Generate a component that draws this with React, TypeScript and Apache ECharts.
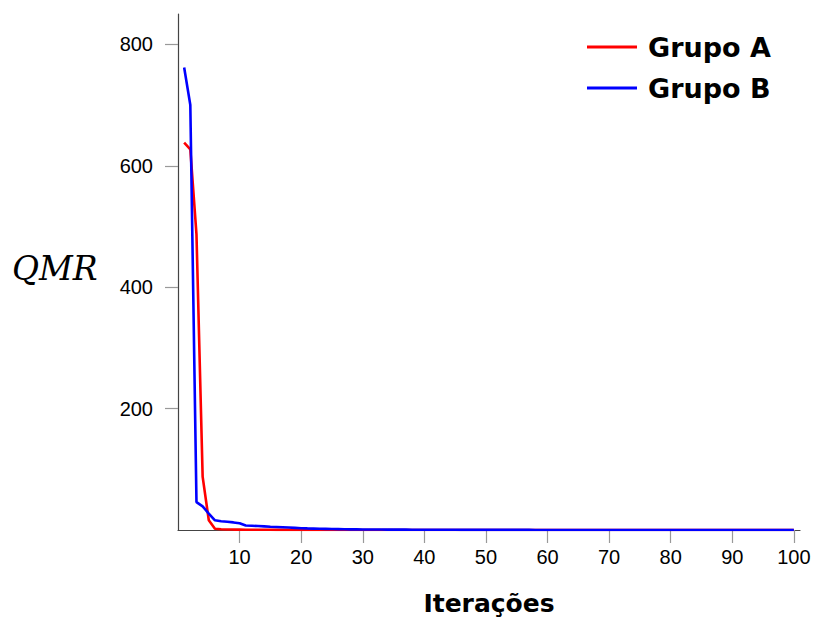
import React, { useEffect, useRef } from "react";
import * as echarts from "echarts";

const iterations: number[] = Array.from({ length: 100 }, (_, i) => i + 1);

const grupoA: number[] = [
  638, 627, 487, 88, 16, 2, 1.2, 0.9, 0.7, 0.6,
  0.5, 0.45, 0.4, 0.35, 0.3, 0.28, 0.25, 0.22, 0.2, 0.18,
  0.16, 0.15, 0.14, 0.13, 0.12, 0.11, 0.1, 0.1, 0.09, 0.09,
  0.08, 0.08, 0.07, 0.07, 0.07, 0.06, 0.06, 0.06, 0.05, 0.05,
  0.05, 0.05, 0.04, 0.04, 0.04, 0.04, 0.04, 0.03, 0.03, 0.03,
  0.03, 0.03, 0.03, 0.03, 0.02, 0.02, 0.02, 0.02, 0.02, 0.02,
  0.02, 0.02, 0.02, 0.02, 0.02, 0.02, 0.01, 0.01, 0.01, 0.01,
  0.01, 0.01, 0.01, 0.01, 0.01, 0.01, 0.01, 0.01, 0.01, 0.01,
  0.01, 0.01, 0.01, 0.01, 0.01, 0.01, 0.01, 0.01, 0.01, 0.01,
  0.01, 0.01, 0.01, 0.01, 0.01, 0.01, 0.01, 0.01, 0.01, 0.01,
];

const grupoB: number[] = [
  762, 700, 46, 39, 27, 16, 14.5, 13.5, 12.5, 11,
  7.5, 7, 6.5, 6, 5.4, 5, 4.5, 4, 3.5, 3,
  2.6, 2.3, 2, 1.8, 1.6, 1.4, 1.2, 1.1, 1, 0.9,
  0.85, 0.8, 0.75, 0.7, 0.65, 0.6, 0.55, 0.5, 0.47, 0.44,
  0.41, 0.38, 0.35, 0.32, 0.3, 0.28, 0.26, 0.24, 0.22, 0.2,
  0.19, 0.18, 0.17, 0.16, 0.15, 0.14, 0.13, 0.12, 0.12, 0.11,
  0.11, 0.1, 0.1, 0.1, 0.09, 0.09, 0.09, 0.08, 0.08, 0.08,
  0.08, 0.07, 0.07, 0.07, 0.07, 0.07, 0.06, 0.06, 0.06, 0.06,
  0.06, 0.06, 0.05, 0.05, 0.05, 0.05, 0.05, 0.05, 0.05, 0.05,
  0.05, 0.05, 0.05, 0.05, 0.05, 0.05, 0.05, 0.05, 0.05, 0.05,
];

const xTicks: number[] = [10, 20, 30, 40, 50, 60, 70, 80, 90, 100];
const yTicks: number[] = [200, 400, 600, 800];
const seriesNames: string[] = ["Grupo A", "Grupo B"];

export default function App() {
  const ref = useRef<HTMLDivElement>(null);

  useEffect(() => {
    if (!ref.current) return;
    const chart = echarts.init(ref.current, undefined, { renderer: "svg" });
    const tickFont = { fontFamily: "Liberation Sans", fontSize: 20, color: "#000" };
    chart.setOption({
      animation: false,
      backgroundColor: "#fff",
      grid: { left: 178, top: 14, right: 13, bottom: 87, containLabel: false, outerBoundsMode: "none" },
      legend: {
        orient: "vertical",
        left: 587,
        top: 32,
        padding: 0,
        itemWidth: 50,
        itemHeight: 3,
        itemGap: 11,
        icon: "rect",
        data: seriesNames,
        textStyle: {
          fontFamily: "DejaVu Sans",
          fontWeight: "bold",
          fontSize: 27,
          color: "#000",
          lineHeight: 30,
          padding: [0, 0, 0, 6],
        },
      },
      xAxis: {
        type: "value",
        min: 0,
        max: 101,
        name: "Iterações",
        nameLocation: "middle",
        nameGap: 61,
        nameTextStyle: { fontFamily: "DejaVu Sans", fontWeight: "bold", fontSize: 25, color: "#000" },
        axisLine: { show: true, lineStyle: { color: "#444", width: 1.2 } },
        axisTick: { show: true, inside: false, length: 13, lineStyle: { color: "#999", width: 1.2 }, customValues: xTicks },
        axisLabel: { ...tickFont, margin: 17, customValues: xTicks },
        splitLine: { show: false },
      },
      yAxis: {
        type: "value",
        min: 0,
        max: 850,
        axisLine: { show: true, lineStyle: { color: "#444", width: 1.2 } },
        axisTick: { show: true, inside: false, length: 13, lineStyle: { color: "#999", width: 1.2 }, customValues: yTicks },
        axisLabel: { ...tickFont, margin: 25, customValues: yTicks },
        splitLine: { show: false },
      },
      graphic: [
        {
          type: "text",
          left: 12,
          top: 252,
          style: {
            text: "QMR",
            fontFamily: "DejaVu Serif",
            fontStyle: "italic",
            fontSize: 33,
            fill: "#000",
          },
        },
      ],
      series: [
        {
          name: seriesNames[0],
          type: "line",
          showSymbol: false,
          symbol: "none",
          color: "#ff0000",
          lineStyle: { color: "#ff0000", width: 2.6 },
          data: iterations.map((x, i) => [x, grupoA[i]]),
        },
        {
          name: seriesNames[1],
          type: "line",
          showSymbol: false,
          symbol: "none",
          color: "#0000ff",
          lineStyle: { color: "#0000ff", width: 2.6 },
          data: iterations.map((x, i) => [x, grupoB[i]]),
        },
      ],
    });
    return () => chart.dispose();
  }, []);

  return (
    <div
      ref={ref}
      style={{ position: "fixed", left: 0, top: 0, width: 813, height: 617, background: "#fff" }}
    />
  );
}
